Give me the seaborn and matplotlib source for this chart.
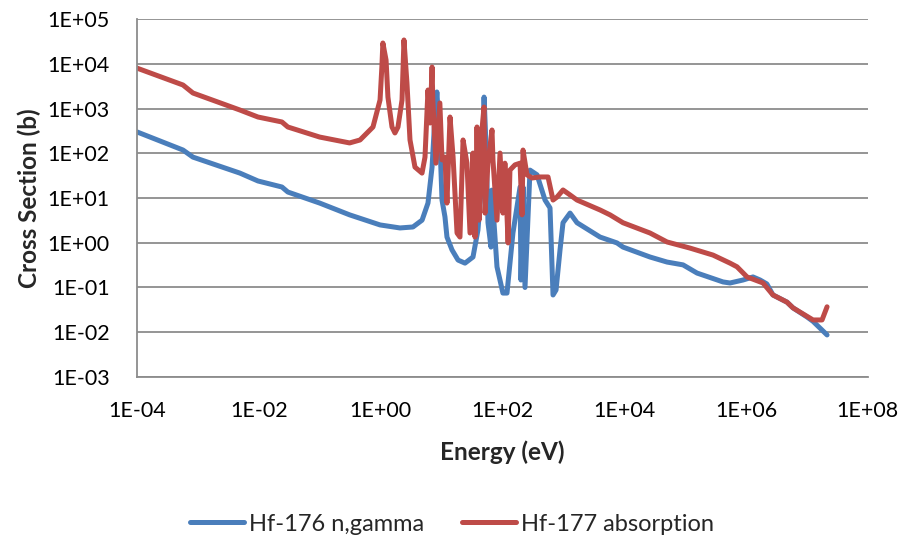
import numpy as np
import pandas as pd
import matplotlib
matplotlib.use("Agg")
import matplotlib.pyplot as plt
import seaborn as sns

# === Data (log-log) ===
hf176_energy = [
    1e-4, 5.7e-4, 8.3e-4, 4.9e-3, 9.7e-3, 0.024, 0.030, 0.10, 0.31, 0.98,
    2.08, 3.4, 4.8, 6.0, 7.0, 7.8, 8.4, 9.4, 10.2, 11.4,
    12.3, 14.9, 18.7, 24.3, 32.9, 39.7, 46, 50, 54, 58,
    65, 67, 81.5, 102, 119, 149, 195, 202, 218, 235,
    284, 370, 501, 605, 678, 760, 883, 989, 1290, 1680,
    4010, 7620, 9550, 2.65e4, 5.05e4, 9.25e4, 1.57e5, 4.19e5, 5.46e5, 8.93e5,
    1.30e6, 1.70e6, 2.2e6, 2.77e6, 4.71e6, 5.91e6, 1.0e7, 1.26e7, 2.14e7,
]
hf176_xs = [
    300, 118, 82, 36, 24, 17.6, 13.6, 7.7, 4.2, 2.5,
    2.14, 2.25, 3.2, 7.7, 49, 646, 2340, 198, 9.0, 3.8,
    1.34, 0.69, 0.41, 0.35, 0.48, 1.93, 25, 1800, 138, 2.8,
    0.80, 15, 0.29, 0.075, 0.075, 1.65, 17.6, 0.147, 17.6, 0.10,
    42, 33, 9.0, 6.0, 0.068, 0.088, 0.69, 2.8, 4.6, 2.8,
    1.34, 0.99, 0.80, 0.48, 0.37, 0.32, 0.21, 0.133, 0.126, 0.147,
    0.172, 0.147, 0.12, 0.068, 0.047, 0.035, 0.022, 0.0175, 0.0087,
]

hf177_energy = [
    1e-4, 5.7e-4, 8.3e-4, 4.9e-3, 9.7e-3, 0.024, 0.030, 0.10, 0.31, 0.46,
    0.75, 0.98, 1.05, 1.09, 1.23, 1.32, 1.54, 1.72, 1.93, 2.25,
    2.42, 2.71, 3.04, 3.67, 4.79, 5.36, 6.0, 6.5, 7.0, 7.2,
    8.1, 9.4, 10.2, 11.4, 12.3, 13.8, 15.5, 18.0, 20.1, 22.6,
    26.2, 29.4, 32.9, 35.5, 38.3, 41.3, 46.2, 49.9, 51.8, 58,
    67.5, 70, 81.5, 91.4, 102, 110, 124, 133, 161, 195,
    210, 218, 253, 306, 414, 561, 678, 789, 989, 1290,
    1680, 4010, 5850, 9550, 2.65e4, 5.05e4, 1.20e5, 2.87e5, 5.46e5, 7.11e5,
    1.04e6, 1.90e6, 2.77e6, 4.71e6, 5.91e6, 1.26e7, 1.77e7, 2.14e7,
]
hf177_xs = [
    8000, 3350, 2220, 925, 645, 500, 386, 230, 170, 198,
    386, 1550, 8450, 29100, 12100, 1800, 386, 284, 386, 1550,
    34000, 3720, 198, 49, 36, 82, 2590, 474, 8450, 1550,
    60, 1330, 71, 82, 7.7, 645, 82, 1.65, 1.34, 198,
    60, 1.65, 101, 1.34, 386, 3.2, 331, 1080, 4.6, 60,
    331, 71, 3.2, 101, 4.6, 60, 0.99, 42, 55, 60,
    4.2, 118, 33, 28, 29.5, 29.5, 9.0, 10.5, 15.1, 11.7,
    9.0, 5.4, 4.2, 2.8, 1.65, 1.04, 0.76, 0.53, 0.35, 0.29,
    0.172, 0.126, 0.068, 0.047, 0.035, 0.0188, 0.0188, 0.037,
]

series_names = ["Hf-176 n,gamma", "Hf-177 absorption"]
series_colors = ["#4A7EBB", "#BE4B48"]

x_ticks = [1e-4, 1e-2, 1e0, 1e2, 1e4, 1e6, 1e8]
y_ticks = [1e-3, 1e-2, 1e-1, 1e0, 1e1, 1e2, 1e3, 1e4, 1e5]

df = pd.concat([
    pd.DataFrame({"Energy": hf176_energy, "XS": hf176_xs, "series": series_names[0]}),
    pd.DataFrame({"Energy": hf177_energy, "XS": hf177_xs, "series": series_names[1]}),
], ignore_index=True)

# === Plot ===
sns.set_theme(style="white")
plt.rcParams["font.family"] = ["Lato", "DejaVu Sans"]

fig = plt.figure(figsize=(9.04, 5.37), dpi=100)
ax = fig.add_axes([0.1515, 0.298, 0.8085, 0.6666])

sns.lineplot(data=df, x="Energy", y="XS", hue="series", palette=series_colors,
             hue_order=series_names, estimator=None, sort=False, linewidth=3.6,
             ax=ax, legend=False)
for line in ax.get_lines():
    line.set_solid_joinstyle("round")
    line.set_solid_capstyle("round")

ax.set_xscale("log")
ax.set_yscale("log")
ax.set_xlim(1e-4, 1e8)
ax.set_ylim(1e-3, 1e5)
ax.set_xticks(x_ticks)
ax.set_yticks(y_ticks)
ax.minorticks_off()
ax.set_xticklabels([f"{t:.0E}" for t in x_ticks])
ax.set_yticklabels([f"{t:.0E}" for t in y_ticks])
ax.tick_params(axis="both", length=0, labelsize=15.5, colors="black")
ax.tick_params(axis="x", pad=17)
ax.tick_params(axis="y", pad=19.5)

ax.yaxis.grid(True, color="#8c8c8c", linewidth=1.3)
ax.xaxis.grid(False)
for side in ["top", "right"]:
    ax.spines[side].set_visible(False)
for side in ["left", "bottom"]:
    ax.spines[side].set_color("#8c8c8c")
    ax.spines[side].set_linewidth(1.3)

ax.set_xlabel("Energy (eV)", fontsize=17.5, fontweight="bold", labelpad=14)
ax.set_ylabel("Cross Section (b)", fontsize=17.5, fontweight="bold", labelpad=5)

handles = [plt.Line2D([], [], color=c, linewidth=3.6, solid_capstyle="round")
           for c in series_colors]
fig.legend(handles, series_names, loc="center", bbox_to_anchor=(0.5, 0.024),
           ncol=2, frameon=False, fontsize=17, handlelength=2.3,
           handletextpad=0.2, columnspacing=1.6)

fig.savefig("out.png", dpi=100)
